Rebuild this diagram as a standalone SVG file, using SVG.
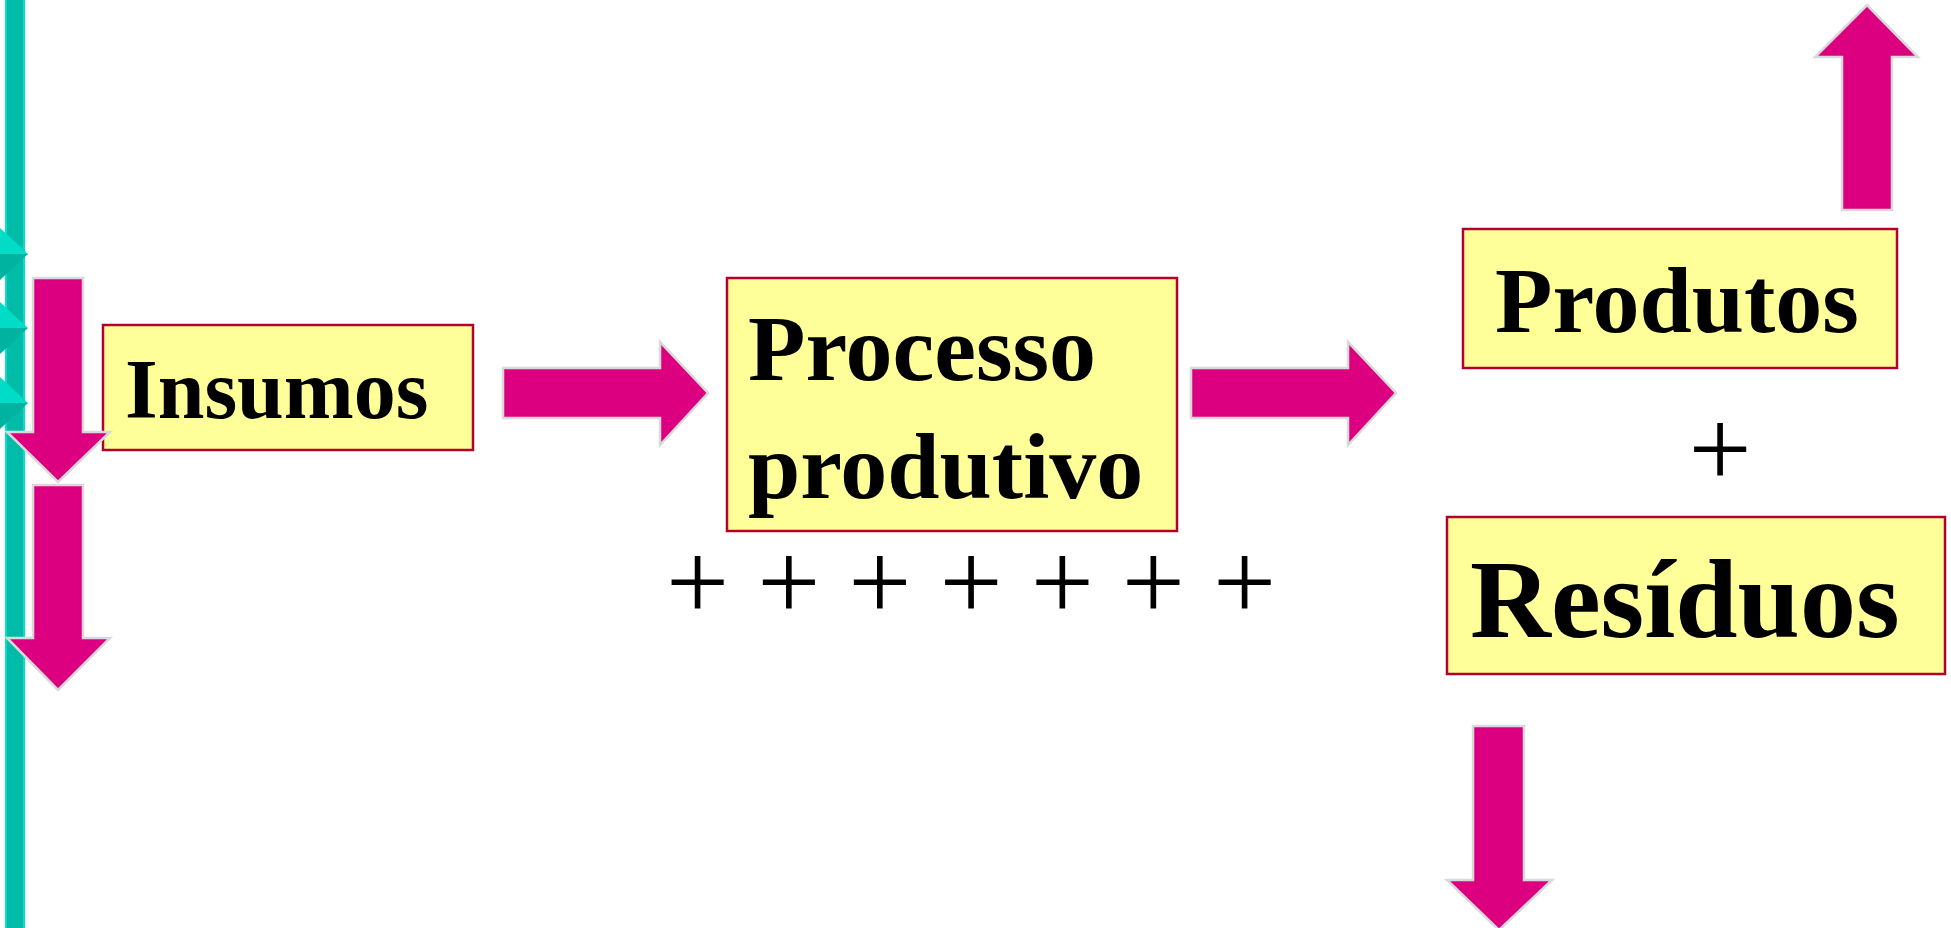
<svg xmlns="http://www.w3.org/2000/svg" width="1951" height="928" viewBox="0 0 1951 928">
<style>
.arrow{fill:#DC0080;stroke:#D9D9D9;stroke-width:2.5;stroke-linejoin:miter}
.box{fill:#FFFF99;stroke:#B3002D;stroke-width:2.5}
.lbl{font-family:"Liberation Serif","Times New Roman",serif;font-weight:bold;fill:#000}
.plus{font-family:"Liberation Serif","Times New Roman",serif;font-size:112px;fill:#000}
.tl{fill:#00DCC6}
.td{fill:#00B3A0}
</style>
<rect width="1951" height="928" fill="#FFFFFF"/>
<g id="side-bar">
<rect x="5" y="0" width="20" height="928" fill="#00BBA8"/>
<rect x="5" y="0" width="2" height="928" fill="#00E0CC"/>
<rect x="23" y="0" width="2" height="928" fill="#00E0CC"/>
<polygon class="tl" points="0,228 28,254 0,254"/>
<polygon class="td" points="0,254 28,254 0,280"/>
<polygon class="tl" points="0,302 28,328 0,328"/>
<polygon class="td" points="0,328 28,328 0,354"/>
<polygon class="tl" points="0,377 28,403 0,403"/>
<polygon class="td" points="0,403 28,403 0,429"/>
</g>
<g id="insumos">
<rect class="box" x="103" y="325" width="370" height="125"/>
<text class="lbl" x="125" y="418" font-size="84">Insumos</text>
</g>
<g id="processo">
<rect class="box" x="727" y="278" width="450" height="253"/>
<text class="lbl" x="748" y="380" font-size="94">Processo</text>
<text class="lbl" x="748" y="498" font-size="94">produtivo</text>
</g>
<g id="plus-row">
<text class="plus" x="666" y="620" xml:space="preserve">+ + + + + + +</text>
</g>
<g id="produtos">
<rect class="box" x="1463" y="229" width="434" height="139"/>
<text class="lbl" x="1495" y="332" font-size="94">Produtos</text>
</g>
<g id="plus-mid">
<text class="plus" x="1720" y="487" text-anchor="middle">+</text>
</g>
<g id="residuos">
<rect class="box" x="1447" y="517" width="498" height="157"/>
<text class="lbl" x="1470" y="637" font-size="112">Resíduos</text>
</g>
<g id="connectors">
<polygon class="arrow" points="33,278 83,278 83,432 110,432 58,482 7,432 33,432"/>
<polygon class="arrow" points="33,485 83,485 83,638 110,638 58,690 7,638 33,638"/>
<polygon class="arrow" points="503,368 660,368 660,342 708,393 660,445 660,418 503,418"/>
<polygon class="arrow" points="1191,368 1348,368 1348,342 1396,393 1348,445 1348,418 1191,418"/>
<polygon class="arrow" points="1842,210 1842,57 1815,57 1867,5 1918,57 1892,57 1892,210"/>
<polygon class="arrow" points="1473,726 1524,726 1524,880 1552,880 1499,930 1447,880 1473,880"/>
</g>
</svg>
